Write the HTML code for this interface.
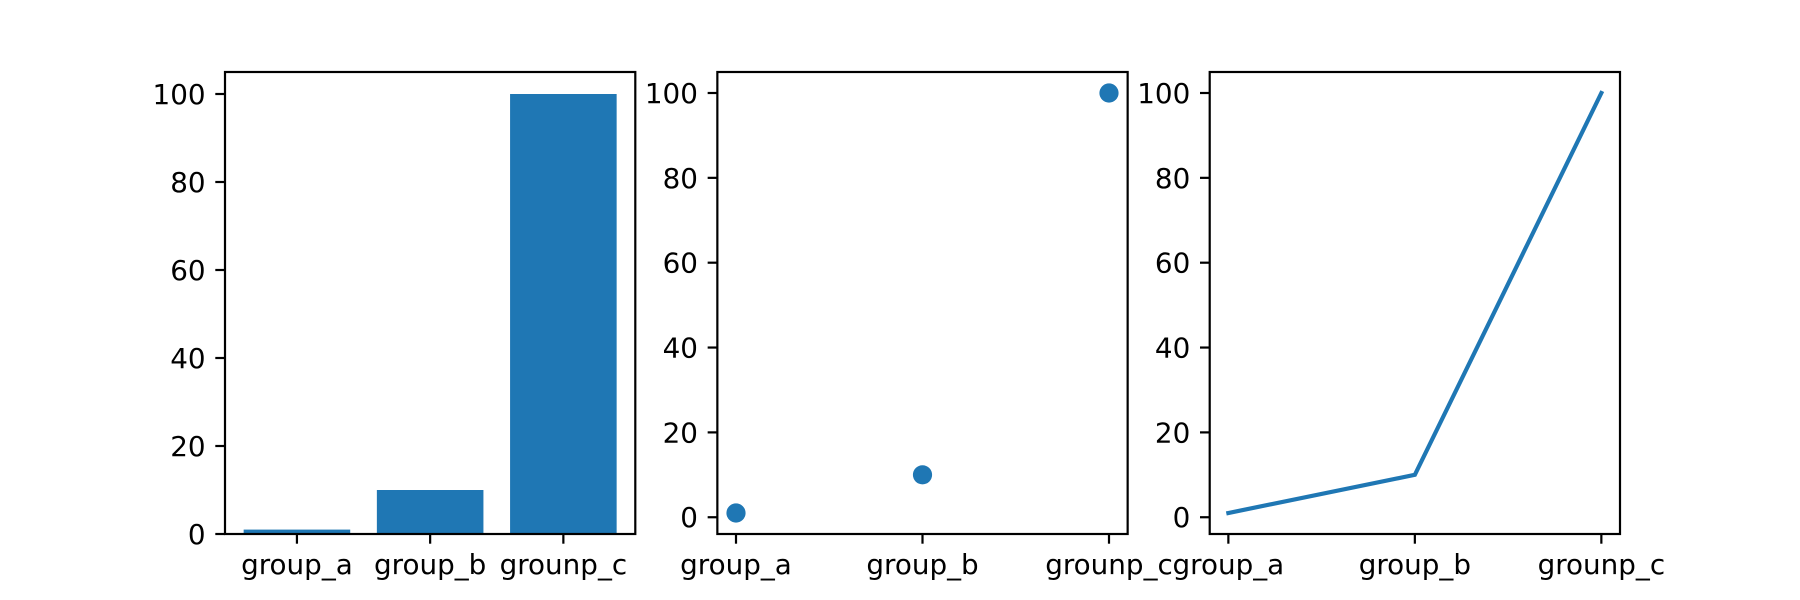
<!DOCTYPE html>
<html><head><meta charset="utf-8"><style>
html,body{margin:0;padding:0;background:#fff;}
svg{display:block;font-family:"DejaVu Sans","Liberation Sans",sans-serif;}
</style></head><body>
<svg id="fig" width="1800" height="600" viewBox="0 0 1800 600"></svg>
<script>
const categories = ["group_a","group_b","grounp_c"];
const values = [1, 10, 100];
const yTicks = [0, 20, 40, 60, 80, 100];

const NS = "http://www.w3.org/2000/svg";
const svg = document.getElementById("fig");
function mk(tag, attrs, parent){
  const e = document.createElementNS(NS, tag);
  for (const k in attrs) e.setAttribute(k, attrs[k]);
  (parent||svg).appendChild(e);
  return e;
}
const top0 = 72, bot0 = 534;
const axW = 1395/3.4, gap = axW*0.2;
const C = "#1f77b4";
const kinds = ["bar","scatter","line"];
const vmin = Math.min(...values), vmax = Math.max(...values);
kinds.forEach((kind, i) => {
  const L = 225 + i*(axW+gap), R = L + axW;
  const g = mk("g", {});
  
  
  let x0, x1, y0, y1;
  const n = categories.length;
  if (kind === "bar") { const a = -0.4, b = n - 1 + 0.4, m = 0.05*(b-a); x0 = a - m; x1 = b + m; y0 = 0; y1 = vmax*1.05; }
  else { const xr = n-1; x0 = -0.05*xr; x1 = xr + 0.05*xr; const r = vmax-vmin; y0 = vmin-0.05*r; y1 = vmax+0.05*r; }
  const sx = v => L + (v - x0)/(x1 - x0)*(R - L);
  const sy = v => bot0 - (v - y0)/(y1 - y0)*(bot0 - top0);
  if (kind === "bar") {
    values.forEach((v, j) => {
      const b = mk("rect", {x: sx(j-0.4), y: sy(v), width: sx(j+0.4)-sx(j-0.4), height: sy(0)-sy(v), fill: C}, g);
      
      
    });
  } else if (kind === "scatter") {
    values.forEach((v, j) => {
      const c = mk("circle", {cx: sx(j), cy: sy(v), r: 9.6, fill: C}, g);
      
      
    });
  } else {
    const p = mk("polyline", {points: values.map((v,j)=>sx(j)+","+sy(v)).join(" "), fill: "none", stroke: C, "stroke-width": 4.17, "stroke-linecap": "square"}, g);
    
    
  }
  const fr = mk("rect", {x: L, y: top0, width: R-L, height: bot0-top0, fill: "none", stroke: "#000", "stroke-width": 2.2}, g);
  
  
  yTicks.forEach(t => {
    const y = sy(t);
    mk("line", {x1: L, x2: L-9.7, y1: y, y2: y, stroke: "#000", "stroke-width": 2.2}, g);
    const tx = mk("text", {x: L-19.4, y: y+10, "text-anchor": "end", "font-size": 27.8, fill: "#000"}, g);
    tx.textContent = t;
    
    
  });
  categories.forEach((c, j) => {
    const x = sx(j);
    mk("line", {x1: x, x2: x, y1: bot0, y2: bot0+9.7, stroke: "#000", "stroke-width": 2.2}, g);
    const tx = mk("text", {x: x, y: bot0+40, "text-anchor": "middle", "font-size": 27.8, fill: "#000"}, g);
    tx.textContent = c;
    
    
  });
});
</script>
</body></html>
